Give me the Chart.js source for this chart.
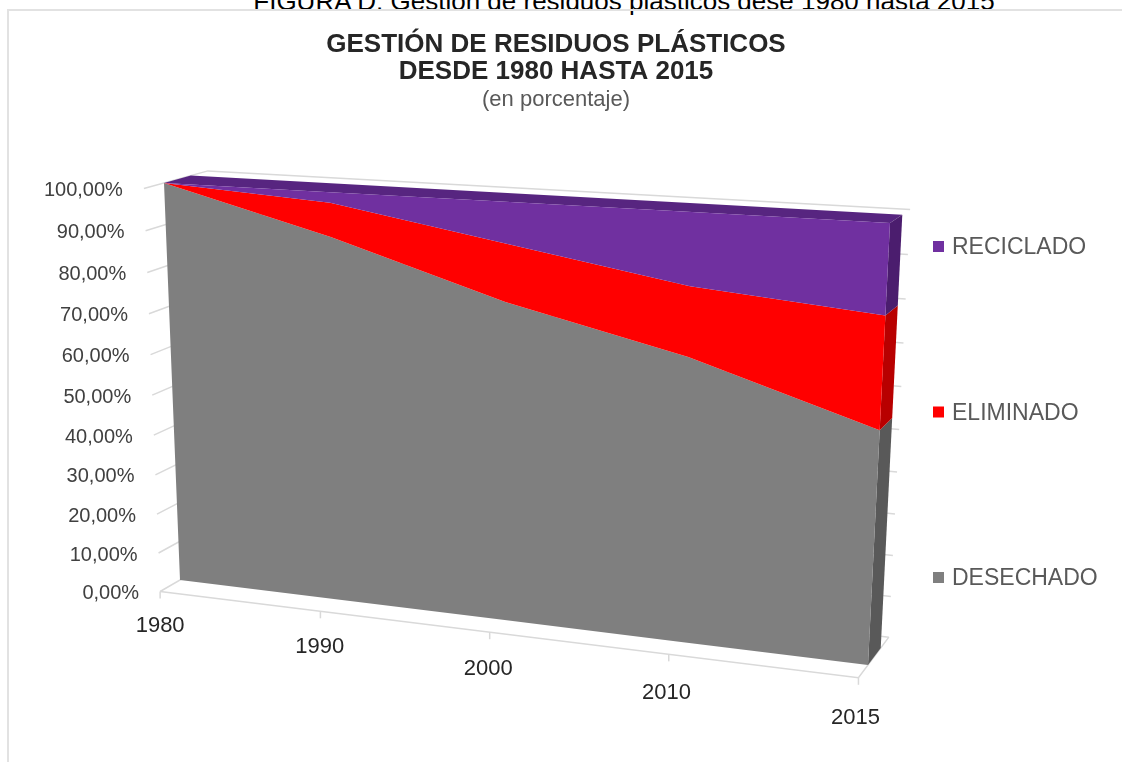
<!DOCTYPE html>
<html lang="es">
<head>
<meta charset="utf-8">
<title>Gestión de residuos plásticos desde 1980 hasta 2015</title>
<script src="https://cdn.jsdelivr.net/npm/chart.js@4.4.1/dist/chart.umd.min.js"></script>
<style>
  html, body { margin: 0; padding: 0; background: #fff; overflow: hidden; }
  body { width: 1122px; height: 762px; position: relative; font-family: "Liberation Sans", Arial, sans-serif; }
  #pie-figura { position: absolute; left: 0; width: 1248px; top: -14px; text-align: center;
                font-size: 26px; line-height: 30px; color: #000; white-space: nowrap; }
  #marco { position: absolute; left: 7px; top: 9px; width: 1140px; height: 780px;
           border: 2px solid #e2e2e2; box-sizing: border-box; }
  #grafico { position: absolute; left: 0; top: 0; }
</style>
</head>
<body>
<div id="pie-figura">FIGURA D: Gestión de residuos plásticos dese 1980 hasta 2015</div>
<div id="marco"></div>
<canvas id="grafico" width="1122" height="762"></canvas>
<script>
// ---- datos (porcentaje de residuos plásticos por destino) ----
const CATEGORIAS = ['1980', '1990', '2000', '2010', '2015'];
const DESECHADO = [100, 89.5, 77, 67.5, 54.5];
const ELIMINADO = [0, 8, 13.5, 16, 25.5];
const RECICLADO = [0, 2.5, 9.5, 16.5, 20];
const NOMBRES = ['DESECHADO', 'ELIMINADO', 'RECICLADO'];
const Y_MIN = 0, Y_MAX = 100, Y_PASO = 10;

// ---- estilo ----
const FUENTE = '"Liberation Sans", Arial, sans-serif';
const COLOR_FRENTE = ['#7f7f7f', '#ff0000', '#7030a0'];
const COLOR_LADO = ['#595959', '#b80000', '#4b1d6e'];
const COLOR_TECHO = '#572580';
const COLOR_REJILLA = '#d9d9d9';

// Cara frontal del bloque 3D: esquinas (1980 / 2015, 0 % / 100 %) en píxeles
const CARA = {
  bl: { x: 180, y: 580 }, br: { x: 868, y: 665 },
  tr: { x: 890, y: 223 }, tl: { x: 164, y: 183 }
};
const FUGA = { x: 1505, y: -187 };      // punto de fuga de la profundidad
const PROF_SERIE = 0.02;                // grosor del bloque de áreas
const DESPL_EJES = -0.015;              // plano frontal de los ejes
const PROF_PARED = 0.047;               // distancia hasta la pared del fondo

// Homografía del cuadrado unidad (u: categorías, v: valor) a la cara frontal
function homografia(q) {
  const p0 = q.bl, p1 = q.br, p2 = q.tr, p3 = q.tl;
  const sx = p0.x - p1.x + p2.x - p3.x, sy = p0.y - p1.y + p2.y - p3.y;
  const dx1 = p1.x - p2.x, dx2 = p3.x - p2.x, dy1 = p1.y - p2.y, dy2 = p3.y - p2.y;
  const det = dx1 * dy2 - dx2 * dy1;
  const g = (sx * dy2 - dx2 * sy) / det, h = (dx1 * sy - sx * dy1) / det;
  const a = p1.x - p0.x + g * p1.x, b = p3.x - p0.x + h * p3.x, c = p0.x;
  const d = p1.y - p0.y + g * p1.y, e = p3.y - p0.y + h * p3.y, f = p0.y;
  return (u, v) => {
    const w = g * u + h * v + 1;
    return { x: (a * u + b * v + c) / w, y: (d * u + e * v + f) / w };
  };
}
const H = homografia(CARA);
const hacia = (p, k) => ({ x: p.x + k * (FUGA.x - p.x), y: p.y + k * (FUGA.y - p.y) });

function poligono(ctx, pts, color) {
  ctx.beginPath();
  pts.forEach((p, i) => (i ? ctx.lineTo(p.x, p.y) : ctx.moveTo(p.x, p.y)));
  ctx.closePath();
  ctx.fillStyle = color;
  ctx.fill();
}
function linea(ctx, pts) {
  ctx.beginPath();
  pts.forEach((p, i) => (i ? ctx.lineTo(p.x, p.y) : ctx.moveTo(p.x, p.y)));
  ctx.stroke();
}

// Dibuja las áreas apiladas en perspectiva a partir de las escalas del gráfico
const perspectiva = {
  id: 'perspectiva',
  afterDatasetsDraw(chart) {
    const ctx = chart.ctx, ca = chart.chartArea;
    const xs = chart.scales.x, ys = chart.scales.y;
    const U = px => (px - ca.left) / (ca.right - ca.left);
    const V = py => (ca.bottom - py) / (ca.bottom - ca.top);
    const n = chart.data.labels.length;
    const cero = V(ys.getPixelForValue(Y_MIN));

    // bordes apilados: base + borde superior de cada serie
    const bordes = [chart.data.labels.map((_, i) => ({ u: U(xs.getPixelForValue(i)), v: cero }))];
    chart.data.datasets.forEach((ds, k) => {
      const meta = chart.getDatasetMeta(k);
      bordes.push(meta.data.map(pt => ({ u: U(pt.x), v: V(pt.y) })));
    });
    const P = p => H(p.u, p.v);

    ctx.save();
    // paredes: rejilla lateral y del fondo
    ctx.lineWidth = 1.5;
    ctx.strokeStyle = COLOR_REJILLA;
    ys.ticks.forEach(t => {
      const v = V(ys.getPixelForValue(t.value));
      const a = hacia(H(0, v), DESPL_EJES);
      const b = hacia(a, PROF_PARED);
      const c = hacia(hacia(H(1, v), DESPL_EJES), PROF_PARED);
      linea(ctx, [a, b, c]);
    });
    // suelo: borde frontal, borde derecho y marcas de categoría
    const f0 = hacia(H(0, cero), DESPL_EJES), f1 = hacia(H(1, cero), DESPL_EJES);
    linea(ctx, [f0, f1, hacia(f1, PROF_PARED)]);
    bordes[0].forEach(p => {
      const q = hacia(P(p), DESPL_EJES);
      linea(ctx, [q, { x: q.x, y: q.y + 7 }]);
    });

    // techo de la serie superior
    const sup = bordes[bordes.length - 1];
    poligono(ctx, sup.map(P).concat(sup.map(p => hacia(P(p), PROF_SERIE)).reverse()), COLOR_TECHO);

    // caras laterales (2015) y frontales: cada banda entre su borde inferior y superior,
    // de abajo arriba para que cada una se pinte sobre la anterior
    for (let k = 1; k < bordes.length; k++) {
      const a = P(bordes[k - 1][n - 1]), b = P(bordes[k][n - 1]);
      poligono(ctx, [a, b, hacia(b, PROF_SERIE), hacia(a, PROF_SERIE)], COLOR_LADO[k - 1]);
    }
    for (let k = 1; k < bordes.length; k++) {
      const arriba = bordes[k].map(P);
      const abajo = bordes[k - 1].map(P).reverse();
      poligono(ctx, arriba.concat(abajo), COLOR_FRENTE[k - 1]);
    }

    // etiquetas del eje de valores
    ctx.fillStyle = '#404040';
    ctx.font = '20px ' + FUENTE;
    ctx.textAlign = 'right';
    ctx.textBaseline = 'middle';
    ys.ticks.forEach(t => {
      const a = hacia(H(0, V(ys.getPixelForValue(t.value))), DESPL_EJES);
      ctx.fillText(t.label, a.x - 21, a.y + 2);
    });
    // etiquetas de categorías bajo el borde del suelo (más separadas hacia el frente)
    ctx.font = '22px ' + FUENTE;
    ctx.textAlign = 'center';
    ctx.fillStyle = '#262626';
    bordes[0].forEach((p, i) => {
      const q = hacia(P(p), DESPL_EJES);
      ctx.fillText(xs.getLabelForValue(i), q.x - 3 * p.u, q.y + 34 + 6 * p.u);
    });

    // leyenda a la derecha (orden inverso al apilado)
    ctx.font = '23px ' + FUENTE;
    ctx.textAlign = 'left';
    const items = chart.data.datasets.map((ds, k) => ({ texto: ds.label, color: COLOR_FRENTE[k] })).reverse();
    items.forEach((it, j) => {
      const y = 247 + j * 165.5;
      ctx.fillStyle = it.color;
      ctx.fillRect(933, y - 6, 11, 11);
      ctx.fillStyle = '#595959';
      ctx.fillText(it.texto, 952, y + 1);
    });
    ctx.restore();
  }
};

const formatoPorcentaje = v => v.toFixed(2).replace('.', ',') + '%';

new Chart(document.getElementById('grafico'), {
  type: 'line',
  data: {
    labels: CATEGORIAS,
    datasets: [
      { label: NOMBRES[0], data: DESECHADO, backgroundColor: COLOR_FRENTE[0] },
      { label: NOMBRES[1], data: ELIMINADO, backgroundColor: COLOR_FRENTE[1] },
      { label: NOMBRES[2], data: RECICLADO, backgroundColor: COLOR_FRENTE[2] }
    ]
  },
  options: {
    responsive: false,
    animation: false,
    events: [],
    layout: { padding: { left: 0, right: 10, top: 0, bottom: 0 } },
    datasets: { line: { showLine: false, fill: false, pointRadius: 0, clip: false } },
    plugins: {
      legend: { display: false },
      tooltip: { enabled: false },
      title: {
        display: true,
        text: ['GESTIÓN DE RESIDUOS PLÁSTICOS', 'DESDE 1980 HASTA 2015'],
        color: '#262626',
        font: { family: FUENTE, size: 26, weight: 'bold', lineHeight: '27px' },
        padding: { top: 31.5, bottom: 0 }
      },
      subtitle: {
        display: true,
        text: '(en porcentaje)',
        color: '#595959',
        font: { family: FUENTE, size: 22, lineHeight: '26px' },
        padding: { top: 1.5, bottom: 0 }
      }
    },
    scales: {
      x: { display: false, offset: false },
      y: {
        display: false, stacked: true, min: Y_MIN, max: Y_MAX,
        ticks: { stepSize: Y_PASO, callback: formatoPorcentaje }
      }
    }
  },
  plugins: [perspectiva]
});
</script>
</body>
</html>
